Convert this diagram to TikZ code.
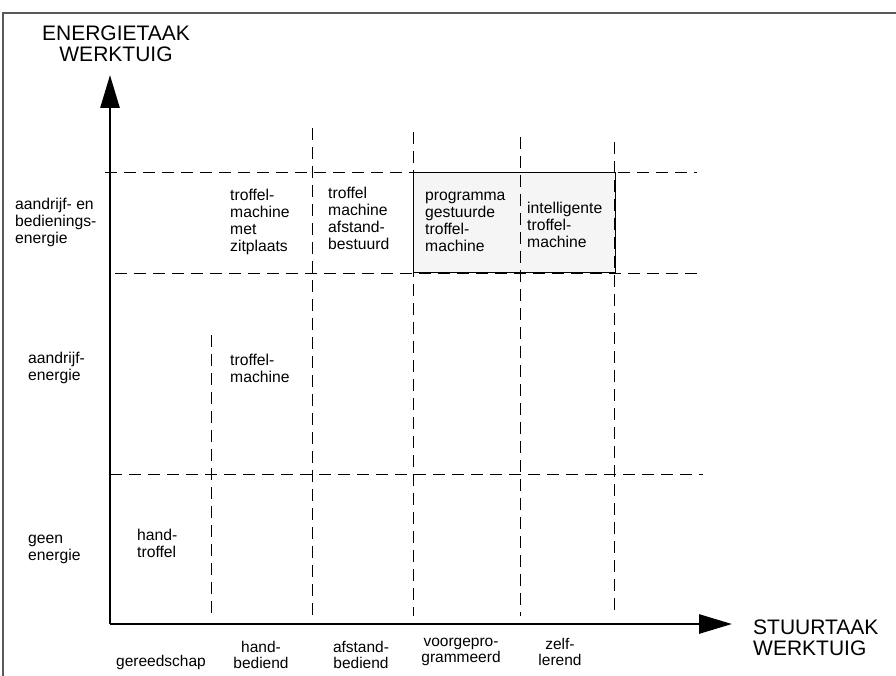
\documentclass[tikz,border=0pt]{standalone}
\usepackage{fontspec}
\setmainfont{Liberation Sans}
\usetikzlibrary{arrows.meta}

\begin{document}
\begin{tikzpicture}[x=1pt,y=-1pt,>={Triangle[length=33pt,width=19pt]},
        gridline/.style={line width=0.9pt,dash pattern=on 12pt off 7pt},
        axisline/.style={line width=2.8pt,->},
        celltext/.style={align=left,anchor=west,inner sep=0pt,font=\fontsize{15.7}{17}\selectfont},
        steptext/.style={align=center,inner sep=0pt,font=\fontsize{15.5}{16}\selectfont},
        axistext/.style={inner sep=0pt,font=\fontsize{21}{21}\selectfont}]
        \useasboundingbox (0,0) rectangle (896,676);

        % draw the frame
        \draw[gray!70!black,line width=1.4pt] (3,676) -- (3,13) -- (896,13);

        % the shaded box
        \filldraw[fill=gray!8,draw=black,line width=0.8pt] (413,172) rectangle (615,272);

        % horizontal dashed lines
        \foreach \y/\xa/\xb in {172/105/697, 273/115/697, 474/110/703} {
                \draw[gridline] (\xa,\y) -- (\xb,\y);
        }
        % vertical dashed lines
        \foreach \x/\ya in {211/335, 312/128, 413/132, 520/137, 614/142} {
                \draw[gridline] (\x,\ya) -- (\x,616);
        }

        % draw the axes
        \coordinate (origin) at (110,624);
        \coordinate (ytip) at (110,75);
        \coordinate (xtip) at (732,624);
        \draw[axisline] (origin) -- (ytip);
        \draw[axisline] (origin) -- (xtip);

        % axis titles
        \node[axistext,align=center] (energietaak) at (116,44) {ENERGIETAAK\\WERKTUIG};
        \node[axistext,align=left,anchor=west] (stuurtaak) at (753,638) {STUURTAAK\\WERKTUIG};

        % energy levels
        \node[celltext] (bediening) at (15,222) {aandrijf- en\\bedienings-\\energie};
        \node[celltext] (aandrijf) at (28,368) {aandrijf-\\energie};
        \node[celltext] (geen) at (28,549) {geen\\energie};

        % the machines
        \node[celltext] (handtroffel) at (137,543) {hand-\\troffel};
        \node[celltext] (troffelmachine) at (230,368) {troffel-\\machine};
        \node[celltext] (zitplaats) at (230,222) {troffel-\\machine\\met\\zitplaats};
        \node[celltext] (afstand) at (328,218) {troffel\\machine\\afstand-\\bestuurd};
        \node[celltext] (programma) at (425,222) {programma\\gestuurde\\troffel-\\machine};
        \node[celltext] (intelligent) at (527,225) {intelligente\\troffel-\\machine};

        % control levels
        \node[steptext] (gereedschap) at (161,662) {gereedschap};
        \node[steptext] (handbediend) at (261,655) {hand-\\bediend};
        \node[steptext] (afstandbediend) at (361,655) {afstand-\\bediend};
        \node[steptext] (voorgepro) at (461,652) {voorgepro-\\grammeerd};
        \node[steptext] (zelflerend) at (560,652) {zelf-\\lerend};
\end{tikzpicture}
\end{document}
